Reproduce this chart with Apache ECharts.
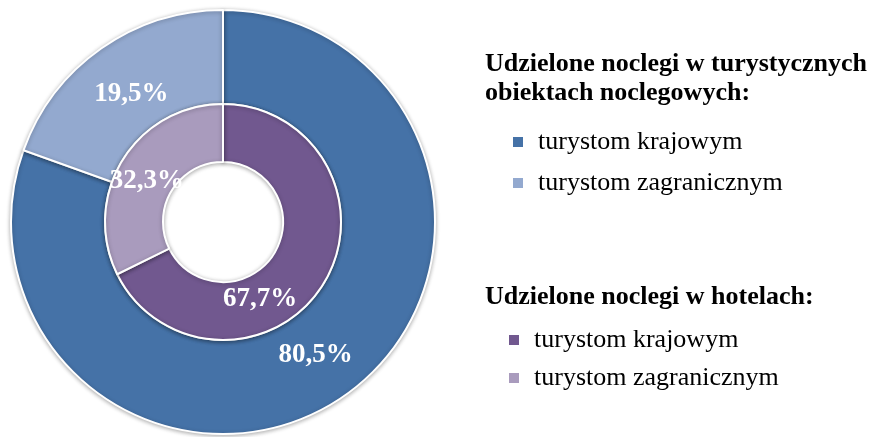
<!DOCTYPE html>
<html>
<head>
<meta charset="utf-8">
<script src="https://cdn.jsdelivr.net/npm/echarts@6/dist/echarts.min.js"></script>
<style>
  html, body { margin: 0; padding: 0; background: #fff; }
  #chart { width: 880px; height: 437px; }
</style>
</head>
<body>
<div id="chart"></div>
<script>
var categories = ['turystom krajowym', 'turystom zagranicznym'];
var obiektyValues = [80.5, 19.5];   // zewnętrzny pierścień
var hoteleValues = [67.7, 32.3];    // wewnętrzny pierścień
var obiektyColors = ['#4572A7', '#93A9CF'];
var hoteleColors = ['#71588F', '#A99BBD'];
var titleObiekty = 'Udzielone noclegi w turystycznych\nobiektach noclegowych:';
var titleHotele = 'Udzielone noclegi w hotelach:';

var serif = '"Liberation Serif", "Times New Roman", serif';

function fmt(v) {
  return v.toFixed(1).replace('.', ',') + '%';
}

// nazwy z prefiksem, żeby legenda rozróżniała oba pierścienie
function buildData(prefix, values, colors) {
  return categories.map(function (c, i) {
    return { name: prefix + '|' + c, value: values[i], itemStyle: { color: colors[i] } };
  });
}

var legendIcon = { borderWidth: 0, borderColor: 'transparent', shadowBlur: 0, shadowOffsetY: 0 };

function legendData(prefix, colors) {
  return categories.map(function (c, i) {
    return { name: prefix + '|' + c, itemStyle: { color: colors[i], borderWidth: 0, borderColor: 'transparent' } };
  });
}

var myChart = echarts.init(document.getElementById('chart'));

var pieLabel = {
  show: true,
  position: 'inside',
  color: '#fff',
  fontFamily: serif,
  fontWeight: 'bold',
  fontSize: 27,
  formatter: function (p) { return fmt(p.value); }
};

var titleStyle = { fontFamily: serif, fontWeight: 'bold', fontSize: 26, lineHeight: 29, color: '#000' };
var legendText = { fontFamily: serif, fontSize: 26, lineHeight: 30, color: '#000', padding: [0, 0, 0, 10] };

var option = {
  backgroundColor: '#fff',
  animation: false,
  title: [{
    text: titleObiekty,
    left: 485,
    top: 50,
    padding: 0,
    textStyle: titleStyle
  }, {
    text: titleHotele,
    left: 485,
    top: 283,
    padding: 0,
    textStyle: titleStyle
  }],
  legend: [{
    orient: 'vertical',
    left: 513,
    top: 127,
    padding: 0,
    itemGap: 11,
    icon: 'rect',
    itemWidth: 10,
    itemHeight: 10,
    itemStyle: legendIcon,
    selectedMode: false,
    data: legendData('o', obiektyColors),
    formatter: function (n) { return n.split('|')[1]; },
    textStyle: legendText
  }, {
    orient: 'vertical',
    left: 509,
    top: 325,
    padding: 0,
    itemGap: 8,
    icon: 'rect',
    itemWidth: 10,
    itemHeight: 10,
    itemStyle: legendIcon,
    selectedMode: false,
    data: legendData('h', hoteleColors),
    formatter: function (n) { return n.split('|')[1]; },
    textStyle: legendText
  }],
  series: [{
    name: 'obiekty',
    type: 'pie',
    center: [223, 222],
    radius: [118, 212],
    startAngle: 90,
    clockwise: true,
    silent: true,
    itemStyle: { borderColor: '#fff', borderWidth: 2, shadowBlur: 4, shadowColor: 'rgba(0,0,0,0.3)', shadowOffsetY: 1 },
    label: pieLabel,
    labelLine: { show: false },
    labelLayout: function (params) {
      return params.dataIndex === 0 ? { dx: -4, dy: -4 } : { dx: 5, dy: 9 };
    },
    data: buildData('o', obiektyValues, obiektyColors)
  }, {
    name: 'hotele',
    type: 'pie',
    center: [223, 222],
    radius: [60, 118],
    startAngle: 90,
    clockwise: true,
    silent: true,
    itemStyle: { borderColor: '#fff', borderWidth: 2, shadowBlur: 4, shadowColor: 'rgba(0,0,0,0.3)', shadowOffsetY: 1 },
    label: pieLabel,
    labelLine: { show: false },
    labelLayout: function (params) {
      return params.dataIndex === 0 ? { dx: -41, dy: 28 } : { dx: 2, dy: 8 };
    },
    data: buildData('h', hoteleValues, hoteleColors)
  }]
};

myChart.setOption(option);
</script>
</body>
</html>
